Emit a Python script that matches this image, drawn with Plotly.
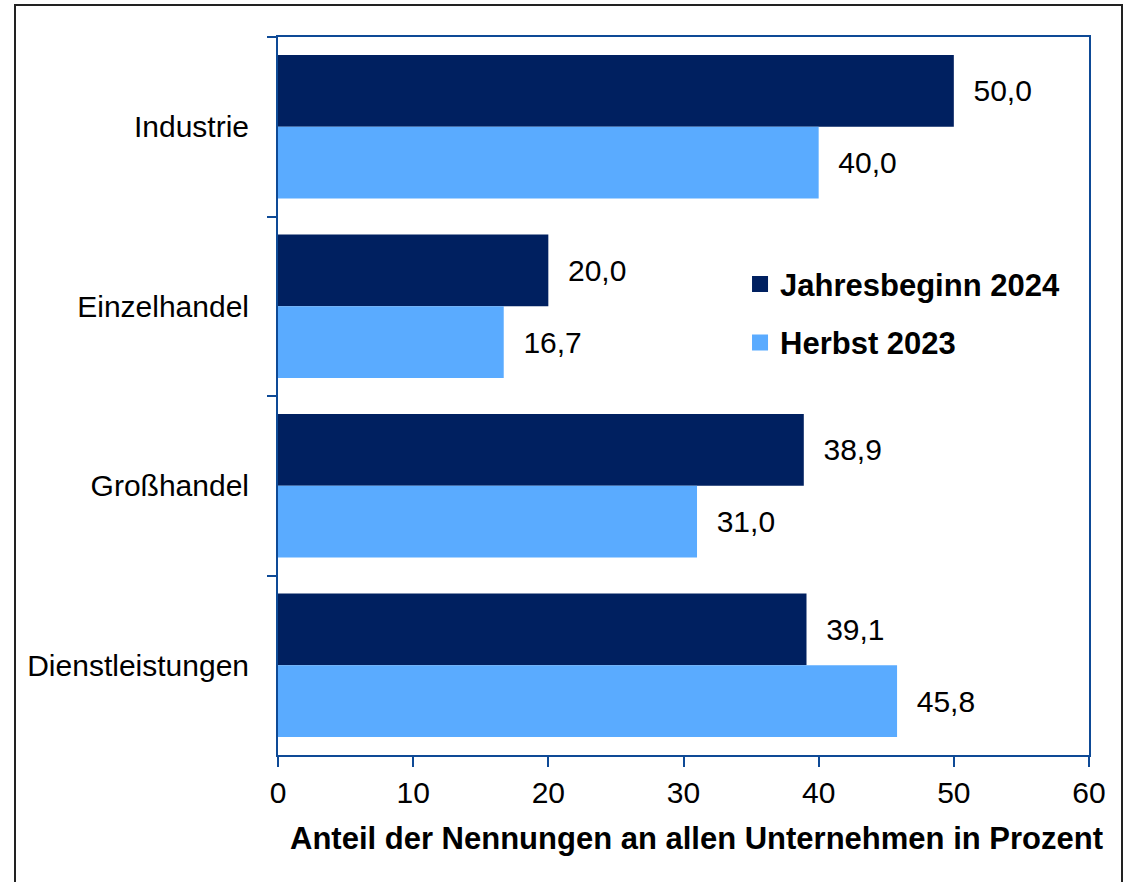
import plotly.graph_objects as go

categories = ["Industrie", "Einzelhandel", "Großhandel", "Dienstleistungen"]
jahresbeginn_2024 = [50.0, 20.0, 38.9, 39.1]
herbst_2023 = [40.0, 16.7, 31.0, 45.8]
series_names = ["Jahresbeginn 2024", "Herbst 2023"]
x_ticks = [0, 10, 20, 30, 40, 50, 60]
x_title = "Anteil der Nennungen an allen Unternehmen in Prozent"

DARK = "#002060"
LIGHT = "#5AABFF"
AXIS = "#0E4A96"
FONT = "Liberation Sans, Arial, sans-serif"

fig = go.Figure()
for name, vals, col in [(series_names[0], jahresbeginn_2024, DARK),
                        (series_names[1], herbst_2023, LIGHT)]:
    fig.add_trace(go.Bar(
        y=categories, x=vals, orientation="h", name=name,
        marker=dict(color=col, line=dict(width=0)),
        texttemplate="\u00a0\u00a0%{x:.1f}", textposition="outside",
        textfont=dict(size=30, color="black", family=FONT),
        cliponaxis=False, constraintext="none", showlegend=False,
    ))
    # legend proxy with larger square symbol
    fig.add_trace(go.Scatter(
        x=[None], y=[None], mode="markers", name=name, legendgroup=name,
        marker=dict(symbol="square", size=17, color=col, line=dict(width=0)),
        showlegend=True,
    ))

fig.update_layout(
    width=1130, height=882,
    margin=dict(l=278, r=41, t=37, b=127),
    paper_bgcolor="white", plot_bgcolor="white",
    barmode="group", bargap=0.2, bargroupgap=0,
    separators=",.",
    font=dict(family=FONT, size=30, color="black"),
    showlegend=True,
    legend=dict(x=0.5697, y=0.693, xanchor="left", yanchor="top",
                bgcolor="rgba(0,0,0,0)", borderwidth=0,
                traceorder="grouped", tracegroupgap=15,
                font=dict(size=31, family=FONT, color="black", weight="bold"),
                itemsizing="trace"),
)
fig.update_xaxes(
    range=[0, 60], tickvals=x_ticks, ticktext=[str(t) for t in x_ticks],
    showgrid=False, zeroline=False,
    showline=True, linecolor=AXIS, linewidth=2, mirror=True,
    ticks="outside", ticklen=10, tickwidth=2, tickcolor=AXIS,
    tickfont=dict(size=30, family=FONT, color="black"),
)
fig.update_yaxes(
    categoryorder="array", categoryarray=categories, autorange="reversed",
    showgrid=False, zeroline=False,
    showline=True, linecolor=AXIS, linewidth=2, mirror=True,
    ticks="outside", ticklen=9, tickwidth=2, tickcolor=AXIS, tickson="boundaries",
    tickfont=dict(size=30, family=FONT, color="black"),
    ticklabelstandoff=21,
)
fig.add_annotation(
    text="<b>" + x_title + "</b>", xref="paper", yref="paper",
    x=0.516, y=-0.1156, xanchor="center", yanchor="middle", showarrow=False,
    font=dict(size=31, family=FONT, color="black"),
)
# outer frame
fig.add_shape(type="rect", xref="paper", yref="paper",
              x0=(15 - 278) / 811, x1=(1122 - 278) / 811,
              y0=(755 - 900) / 718, y1=(755 - 5) / 718,
              line=dict(color="#222222", width=2), fillcolor="rgba(0,0,0,0)",
              layer="below")

fig.write_html("out.html", config={"displayModeBar": False},
               post_script="document.body.style.margin='0px';")
